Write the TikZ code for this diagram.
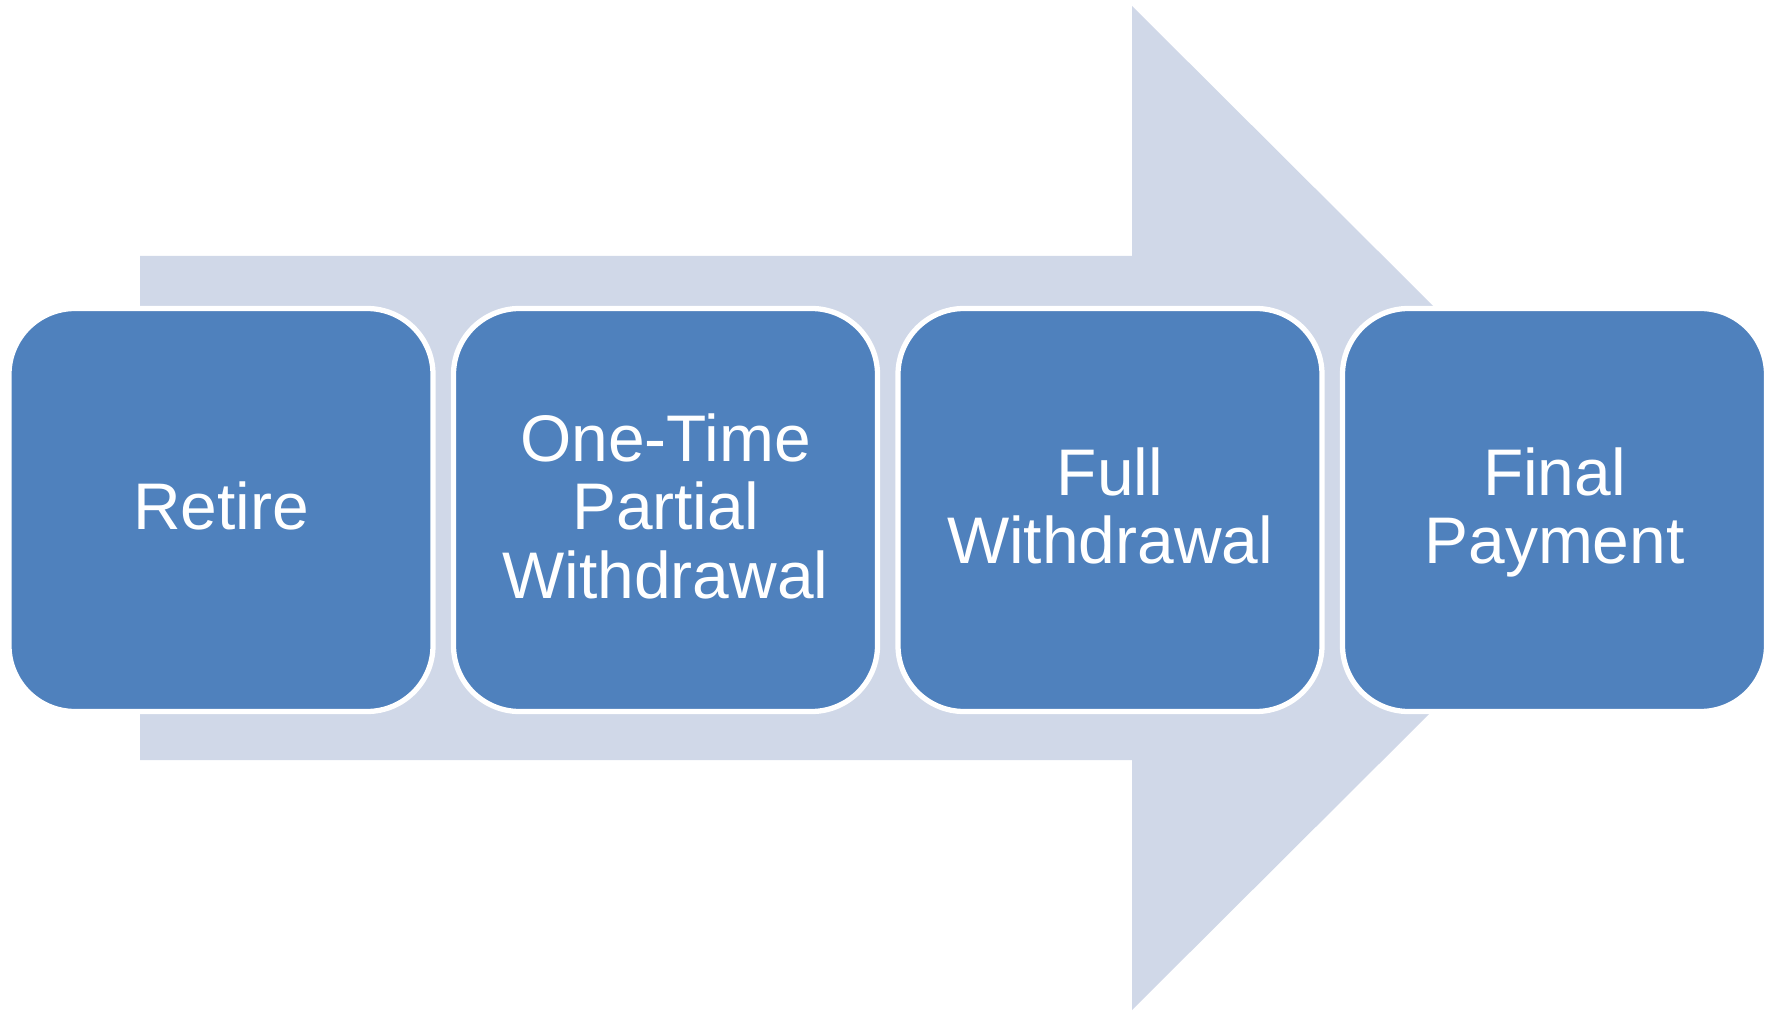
\documentclass[tikz,border=0pt]{standalone}
\usepackage{fontspec}
\setmainfont{Liberation Sans}
\usepackage{tikz}
\usetikzlibrary{positioning}
\usepackage{xcolor}
\definecolor{stepblue}{HTML}{4F81BD}
\definecolor{arrowtint}{HTML}{D0D8E8}
\tikzset{
  stepbox/.style={
    rounded corners=1.32cm,
    draw=white,
    fill=stepblue,
    line width=3pt,
    outer sep=0pt,
    minimum width=8.48cm,
    minimum height=8.06cm,
    text depth=0.17cm,
    align=center,
    text=white,
    font=\fontsize{37.5}{39}\selectfont
  },
  flowarrow/.style={
    fill=arrowtint
  }
}

\begin{document}
\begin{tikzpicture}[node distance=0.41cm]
\useasboundingbox (0,0) rectangle (35.42,20.2);
% background arrow
\fill[flowarrow] (2.8,5.0) -- (22.64,5.0) -- (22.64,0) -- (32.72,10.04)
  -- (22.64,20.08) -- (22.64,15.08) -- (2.8,15.08) -- cycle;
% steps
\node[stepbox] (retire) at (4.42,10.0) {Retire};
\node[stepbox, right=of retire] (partial) {One-Time\\Partial\\Withdrawal};
\node[stepbox, right=of partial] (full) {Full\\Withdrawal};
\node[stepbox, right=of full] (final) {Final\\Payment};
\end{tikzpicture}
\end{document}
